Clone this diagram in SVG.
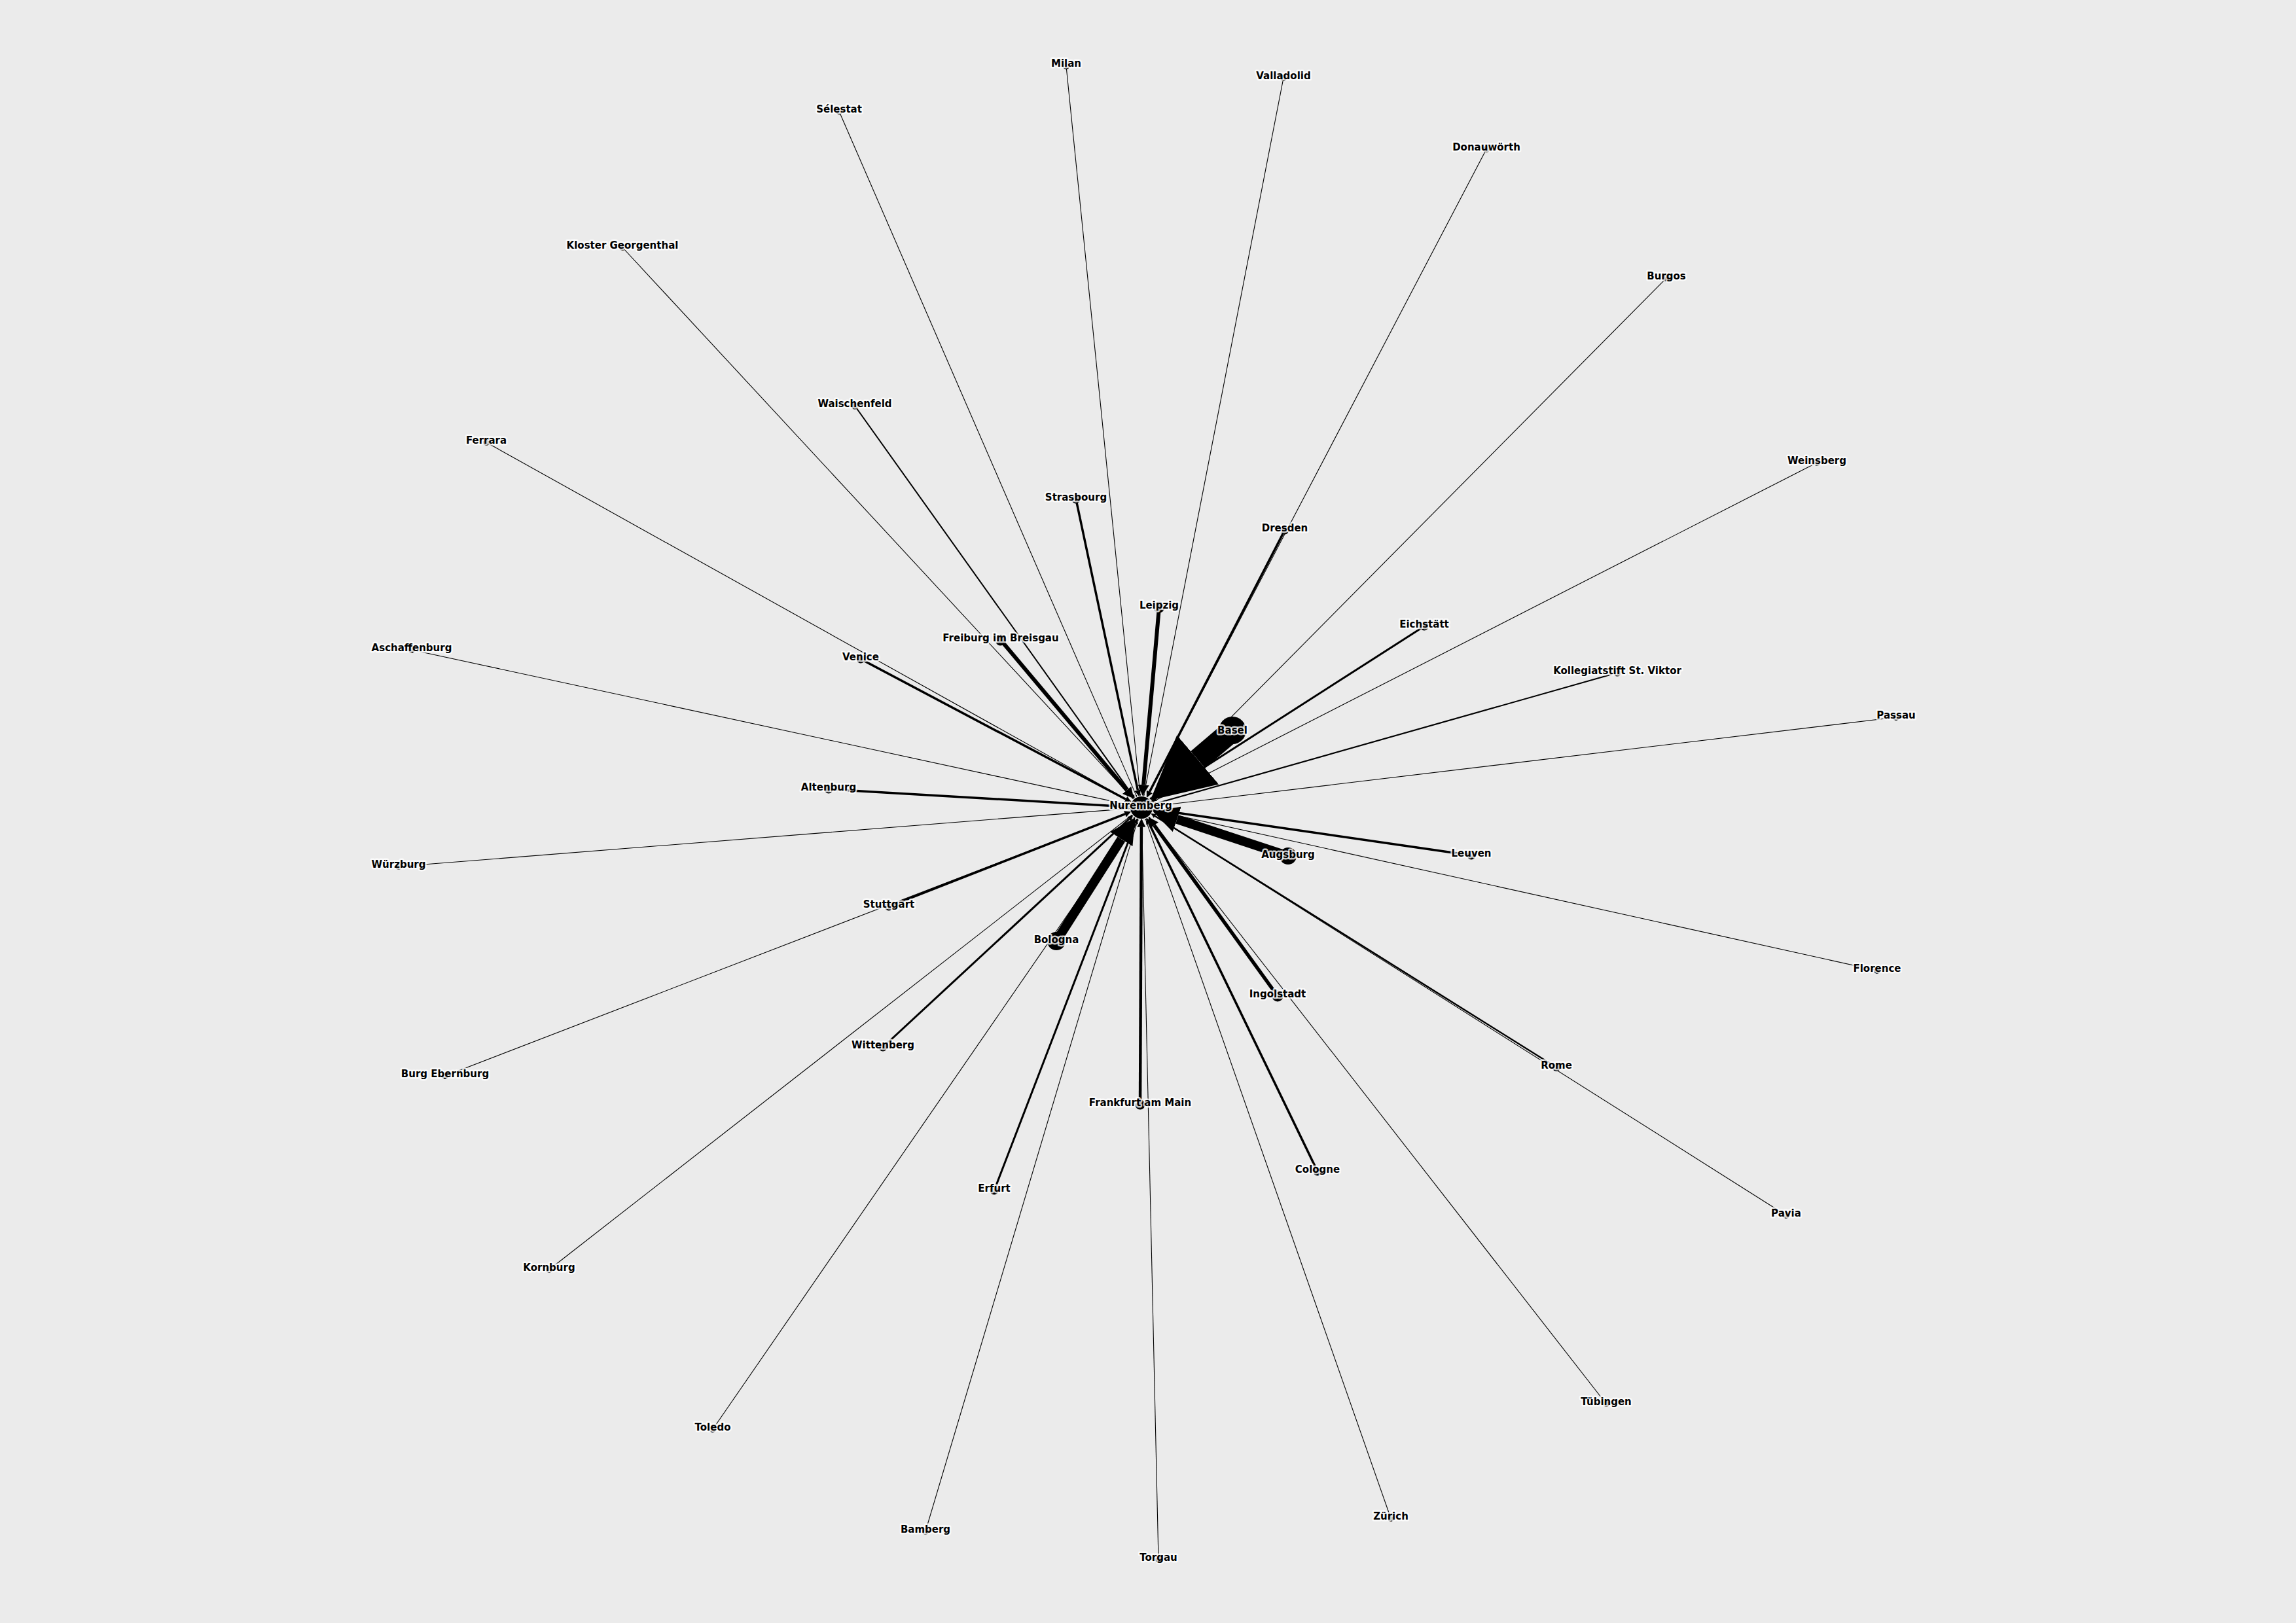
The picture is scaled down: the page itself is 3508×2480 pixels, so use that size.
<svg xmlns="http://www.w3.org/2000/svg" width="3508" height="2480" viewBox="0 0 3508 2480">
<defs>
<style>
.bg{fill:#ebebeb}
.e{stroke:#000;fill:none;stroke-linecap:butt;marker-end:url(#arr)}
.w1{stroke-width:1.1}
.w2{stroke-width:2}
.w25{stroke-width:2.5}
.w3{stroke-width:3}
.w35{stroke-width:3.5}
.w45{stroke-width:4.5}
.w55{stroke-width:5.5}
.w6{stroke-width:6}
.w14{stroke-width:14}
.w34{stroke-width:34}
.n circle{fill:#000}
.n text{font-family:"DejaVu Sans","Liberation Sans",sans-serif;font-weight:700;font-size:15px;fill:#000;text-anchor:middle;stroke:#fff;stroke-opacity:0.78;stroke-width:5;stroke-linejoin:round;paint-order:stroke}
</style>
<marker id="arr" viewBox="0 0 28 29" refX="0" refY="14.5" markerWidth="2.8" markerHeight="2.9" orient="auto" markerUnits="strokeWidth">
<path d="M0,0 L28,14.5 L0,29 z" fill="#000"/>
</marker>
</defs>
<rect class="bg" x="0" y="0" width="3508" height="2480"/>
<g id="connectors">
<line class="e w1" x1="1629" y1="101" x2="1741.9" y2="1213.5"/>
<line class="e w1" x1="1961" y1="119" x2="1747.9" y2="1213.8"/>
<line class="e w1" x1="1282" y1="170" x2="1735.8" y2="1215.1"/>
<line class="e w1" x1="2271" y1="228" x2="1753.6" y2="1215.8"/>
<line class="e w1" x1="951" y1="378" x2="1730.0" y2="1218.9"/>
<line class="e w1" x1="2546" y1="425" x2="1758.5" y2="1219.4"/>
<line class="e w2" x1="1306" y1="620" x2="1730.5" y2="1215.1"/>
<line class="e w1" x1="743" y1="676" x2="1726.0" y2="1224.0"/>
<line class="e w1" x1="2776" y1="707" x2="1762.3" y2="1224.6"/>
<line class="e w35" x1="1644" y1="763" x2="1738.4" y2="1207.5"/>
<line class="e w35" x1="1963" y1="810" x2="1756.4" y2="1209.9"/>
<line class="e w6" x1="1771" y1="928" x2="1747.1" y2="1199.3"/>
<line class="e w3" x1="2176" y1="957" x2="1765.7" y2="1220.1"/>
<line class="e w6" x1="1529" y1="978" x2="1721.6" y2="1207.4"/>
<line class="e w1" x1="629" y1="993" x2="1723.9" y2="1229.6"/>
<line class="e w35" x1="1315" y1="1007" x2="1720.0" y2="1221.3"/>
<line class="e w2" x1="2471" y1="1028" x2="1766.3" y2="1227.7"/>
<line class="e w1" x1="2897" y1="1096" x2="1764.5" y2="1231.6"/>
<line class="e w34" x1="1883" y1="1116" x2="1830.2" y2="1160.9"/>
<line class="e w35" x1="1266" y1="1206" x2="1716.9" y2="1232.4"/>
<line class="e w14" x1="1968" y1="1308" x2="1798.3" y2="1251.9"/>
<line class="e w35" x1="2248" y1="1307" x2="1770.8" y2="1237.9"/>
<line class="e w1" x1="609" y1="1324" x2="1723.5" y2="1235.6"/>
<line class="e w35" x1="1358" y1="1385" x2="1718.8" y2="1243.9"/>
<line class="e w14" x1="1614" y1="1438" x2="1713.3" y2="1282.2"/>
<line class="e w1" x1="2868" y1="1483" x2="1764.1" y2="1238.5"/>
<line class="e w55" x1="1952" y1="1522" x2="1763.6" y2="1261.1"/>
<line class="e w3" x1="1349" y1="1600" x2="1725.1" y2="1251.5"/>
<line class="e w25" x1="2378" y1="1631" x2="1764.8" y2="1247.0"/>
<line class="e w1" x1="680" y1="1644" x2="1724.8" y2="1241.4"/>
<line class="e w45" x1="1742" y1="1688" x2="1743.9" y2="1263.7"/>
<line class="e w35" x1="2013" y1="1790" x2="1755.8" y2="1258.4"/>
<line class="e w3" x1="1519" y1="1819" x2="1734.7" y2="1258.1"/>
<line class="e w1" x1="2729" y1="1857" x2="1761.4" y2="1245.0"/>
<line class="e w1" x1="839" y1="1940" x2="1727.8" y2="1246.7"/>
<line class="e w1" x1="2454" y1="2145" x2="1756.7" y2="1250.2"/>
<line class="e w1" x1="1089" y1="2184" x2="1732.3" y2="1251.0"/>
<line class="e w1" x1="2125" y1="2320" x2="1750.8" y2="1253.4"/>
<line class="e w1" x1="1414" y1="2340" x2="1738.1" y2="1253.7"/>
<line class="e w1" x1="1770" y1="2383" x2="1744.5" y2="1254.6"/>
</g>
<g id="n-milan" class="n"><circle cx="1629" cy="101" r="5"/><text x="1629" y="102">Milan</text></g>
<g id="n-valladolid" class="n"><circle cx="1961" cy="119" r="5"/><text x="1961" y="121">Valladolid</text></g>
<g id="n-selestat" class="n"><circle cx="1282" cy="170" r="5"/><text x="1282" y="172">Sélestat</text></g>
<g id="n-donauworth" class="n"><circle cx="2271" cy="228" r="5"/><text x="2271" y="230">Donauwörth</text></g>
<g id="n-kloster-georgenthal" class="n"><circle cx="951" cy="378" r="5"/><text x="951" y="380">Kloster Georgenthal</text></g>
<g id="n-burgos" class="n"><circle cx="2546" cy="425" r="5"/><text x="2546" y="427">Burgos</text></g>
<g id="n-waischenfeld" class="n"><circle cx="1306" cy="620" r="5.5"/><text x="1306" y="622">Waischenfeld</text></g>
<g id="n-ferrara" class="n"><circle cx="743" cy="676" r="5"/><text x="743" y="678">Ferrara</text></g>
<g id="n-weinsberg" class="n"><circle cx="2776" cy="707" r="5"/><text x="2776" y="709">Weinsberg</text></g>
<g id="n-strasbourg" class="n"><circle cx="1644" cy="763" r="6.5"/><text x="1644" y="765">Strasbourg</text></g>
<g id="n-dresden" class="n"><circle cx="1963" cy="810" r="6.5"/><text x="1963" y="812">Dresden</text></g>
<g id="n-leipzig" class="n"><circle cx="1771" cy="928" r="8.5"/><text x="1771" y="930">Leipzig</text></g>
<g id="n-eichstatt" class="n"><circle cx="2176" cy="957" r="6.5"/><text x="2176" y="959">Eichstätt</text></g>
<g id="n-freiburg" class="n"><circle cx="1529" cy="978" r="8.5"/><text x="1529" y="980">Freiburg im Breisgau</text></g>
<g id="n-aschaffenburg" class="n"><circle cx="629" cy="993" r="5"/><text x="629" y="995">Aschaffenburg</text></g>
<g id="n-venice" class="n"><circle cx="1315" cy="1007" r="6.5"/><text x="1315" y="1009">Venice</text></g>
<g id="n-kollegiatstift" class="n"><circle cx="2471" cy="1028" r="5.5"/><text x="2471" y="1030">Kollegiatstift St. Viktor</text></g>
<g id="n-passau" class="n"><circle cx="2897" cy="1096" r="5"/><text x="2897" y="1098">Passau</text></g>
<g id="n-basel" class="n"><circle cx="1883" cy="1116" r="21"/><text x="1883" y="1121">Basel</text></g>
<g id="n-altenburg" class="n"><circle cx="1266" cy="1206" r="6.5"/><text x="1266" y="1208">Altenburg</text></g>
<g id="n-augsburg" class="n"><circle cx="1968" cy="1308" r="13"/><text x="1968" y="1311">Augsburg</text></g>
<g id="n-leuven" class="n"><circle cx="2248" cy="1307" r="6.5"/><text x="2248" y="1309">Leuven</text></g>
<g id="n-wurzburg" class="n"><circle cx="609" cy="1324" r="5"/><text x="609" y="1326">Würzburg</text></g>
<g id="n-stuttgart" class="n"><circle cx="1358" cy="1385" r="6.5"/><text x="1358" y="1387">Stuttgart</text></g>
<g id="n-bologna" class="n"><circle cx="1614" cy="1438" r="14"/><text x="1614" y="1441">Bologna</text></g>
<g id="n-florence" class="n"><circle cx="2868" cy="1483" r="5"/><text x="2868" y="1485">Florence</text></g>
<g id="n-ingolstadt" class="n"><circle cx="1952" cy="1522" r="8.5"/><text x="1952" y="1524">Ingolstadt</text></g>
<g id="n-wittenberg" class="n"><circle cx="1349" cy="1600" r="6.5"/><text x="1349" y="1602">Wittenberg</text></g>
<g id="n-rome" class="n"><circle cx="2378" cy="1631" r="6"/><text x="2378" y="1633">Rome</text></g>
<g id="n-burg-ebernburg" class="n"><circle cx="680" cy="1644" r="5"/><text x="680" y="1646">Burg Ebernburg</text></g>
<g id="n-frankfurt" class="n"><circle cx="1742" cy="1688" r="7.5"/><text x="1742" y="1690">Frankfurt am Main</text></g>
<g id="n-cologne" class="n"><circle cx="2013" cy="1790" r="6.5"/><text x="2013" y="1792">Cologne</text></g>
<g id="n-erfurt" class="n"><circle cx="1519" cy="1819" r="6.5"/><text x="1519" y="1821">Erfurt</text></g>
<g id="n-pavia" class="n"><circle cx="2729" cy="1857" r="5"/><text x="2729" y="1859">Pavia</text></g>
<g id="n-kornburg" class="n"><circle cx="839" cy="1940" r="5"/><text x="839" y="1942">Kornburg</text></g>
<g id="n-tubingen" class="n"><circle cx="2454" cy="2145" r="5"/><text x="2454" y="2147">Tübingen</text></g>
<g id="n-toledo" class="n"><circle cx="1089" cy="2184" r="5"/><text x="1089" y="2186">Toledo</text></g>
<g id="n-zurich" class="n"><circle cx="2125" cy="2320" r="5"/><text x="2125" y="2322">Zürich</text></g>
<g id="n-bamberg" class="n"><circle cx="1414" cy="2340" r="5"/><text x="1414" y="2342">Bamberg</text></g>
<g id="n-torgau" class="n"><circle cx="1770" cy="2383" r="5"/><text x="1770" y="2385">Torgau</text></g>
<g id="n-nuremberg" class="n"><circle cx="1744" cy="1234" r="17"/><text x="1743" y="1236">Nuremberg</text></g>
</svg>
